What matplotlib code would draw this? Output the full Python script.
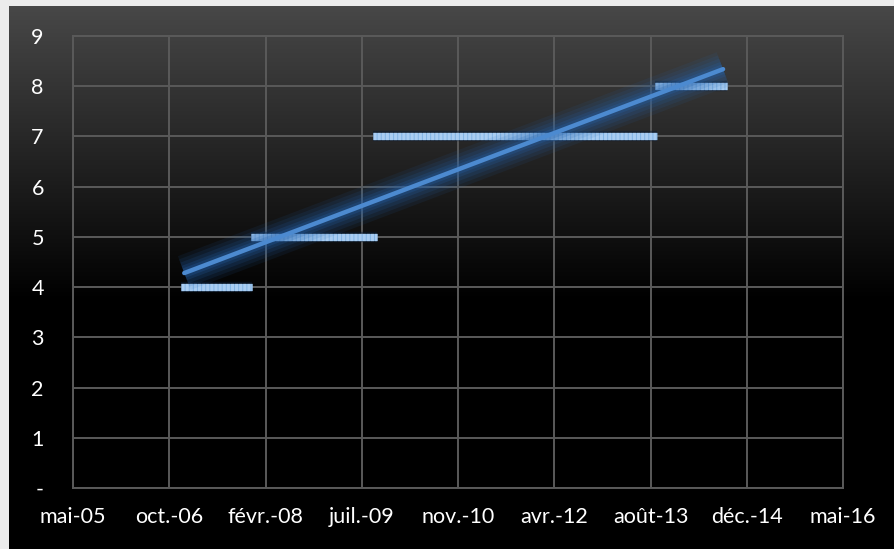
import numpy as np
import matplotlib
matplotlib.use("Agg")
import matplotlib.pyplot as plt
import matplotlib.dates as mdates

# ---- data -------------------------------------------------------------
level_values = [4, 5, 7, 8]
level_start = ['2006-12-10', '2007-12-09', '2009-09-02', '2013-09-06']
level_end = ['2007-12-12', '2009-09-22', '2013-09-17', '2014-09-15']

trend_dates = ['2006-12-27', '2014-08-26']
trend_values = [4.28, 8.34]

tick_first = '2005-05-28'
tick_step_days = 500
tick_labels = ['mai-05', 'oct.-06', 'févr.-08', 'juil.-09', 'nov.-10',
               'avr.-12', 'août-13', 'déc.-14', 'mai-16']
y_ticks = list(range(10))
y_tick_labels = ['-', '1', '2', '3', '4', '5', '6', '7', '8', '9']

plt.rcParams['font.family'] = ['Lato', 'DejaVu Sans']

W, H = 894, 549
fig = plt.figure(figsize=(W / 100, H / 100), dpi=100)
fig.patch.set_facecolor('#ececec')

# dark chart background with a vertical grey-to-black gradient
bg = fig.add_axes([9 / W, 0, 1 - 9 / W, (H - 6) / H])
bg.set_axis_off()
rows = np.arange(H - 6)
shade = np.clip(0.28 * (1 - rows / 294.0), 0, 1)
grad = np.repeat(shade[:, None], 2, axis=1)
bg.imshow(np.dstack([grad, grad, grad]), aspect='auto', extent=[0, 1, 0, 1],
          interpolation='bilinear', vmin=0, vmax=1)
bg.set_xlim(0, 1)
bg.set_ylim(0, 1)

# plot area
left, right, top, bottom = 73, 843, 36, 488
ax = fig.add_axes([left / W, (H - bottom) / H, (right - left) / W, (bottom - top) / H])
ax.set_facecolor('none')

ticks = np.datetime64(tick_first) + np.arange(len(tick_labels)) * np.timedelta64(tick_step_days, 'D')
tick_nums = mdates.date2num(ticks.astype('datetime64[D]').astype(object))
ax.set_xlim(tick_nums[0], tick_nums[-1])
ax.set_ylim(0, 9)
ax.set_xticks(tick_nums)
ax.set_xticklabels(tick_labels)
ax.set_yticks(y_ticks)
ax.set_yticklabels(y_tick_labels)

grid_col = '#5a5a5a'
ax.grid(True, color=grid_col, linewidth=1.4)
ax.set_axisbelow(True)
for sp in ax.spines.values():
    sp.set_color(grid_col)
    sp.set_linewidth(1.4)
ax.tick_params(axis='both', length=0, colors='white', labelsize=15.5)
ax.tick_params(axis='y', pad=21)
ax.tick_params(axis='x', pad=14)

# level segments (square-dot style)
for v, s, e in zip(level_values, level_start, level_end):
    xs = mdates.date2num([np.datetime64(s).astype(object), np.datetime64(e).astype(object)])
    ax.plot(xs, [v, v], color='#0a1a30', linewidth=7.5, alpha=0.5,
            solid_capstyle='butt', zorder=2)
    ax.plot(xs, [v, v], color='#82b3e3', linewidth=5.2,
            solid_capstyle='butt', zorder=3)
    ax.plot(xs, [v, v], color='#a9cdf2', linewidth=5.2, linestyle=(0, (0.43, 0.14)),
            dash_capstyle='butt', zorder=4)

# linear trend with soft blue glow
tx = mdates.date2num([np.datetime64(d).astype(object) for d in trend_dates])
for lw, a in [(26, 0.10), (21, 0.12), (16, 0.15), (11, 0.2), (7, 0.25)]:
    ax.plot(tx, trend_values, color='#2563ad', linewidth=lw, alpha=a,
            solid_capstyle='butt', zorder=5)
ax.plot(tx, trend_values, color='#4c8ad0', linewidth=3.2,
        solid_capstyle='round', zorder=6)

fig.savefig('out.png', dpi=100, facecolor=fig.get_facecolor())
